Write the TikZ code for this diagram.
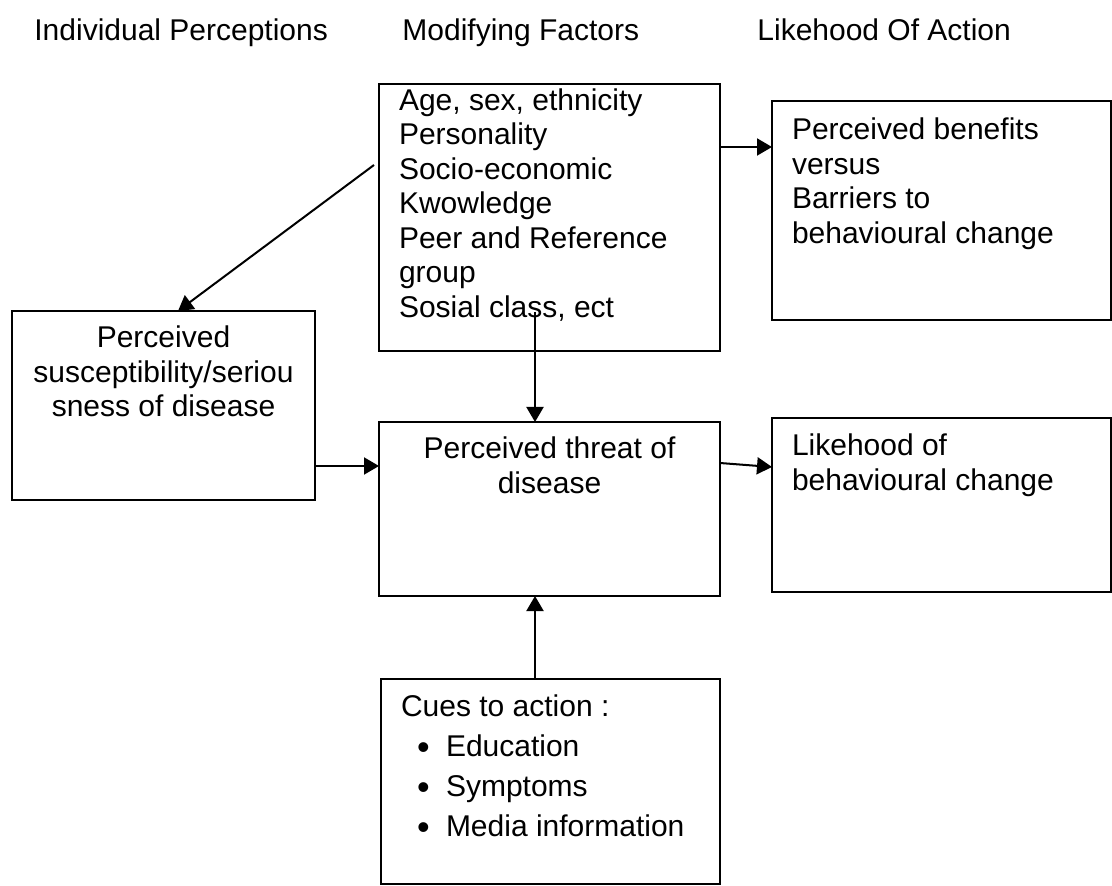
\documentclass[tikz,border=0pt]{standalone}
\usepackage{fontspec}
\setmainfont{Liberation Sans}
\usetikzlibrary{arrows.meta}

\begin{document}
\begin{tikzpicture}[x=0.5pt, y=-0.5pt]
  \tikzstyle{box}=[draw, line width=1pt, outer sep=0pt, anchor=north west, inner xsep=10pt, font=\fontsize{15pt}{17.25pt}\selectfont]
  \tikzstyle{head}=[anchor=base west, inner sep=0pt, font=\fontsize{15pt}{17.25pt}\selectfont]
  \tikzstyle{arr}=[line width=1pt, -{Triangle[length=7.5pt, width=8.5pt]}]

  \useasboundingbox (0,0) rectangle (1112,886);

  \node[head] (h1) at (34,41)  {Individual Perceptions};
  \node[head] (h2) at (402,41) {Modifying Factors};
  \node[head] (h3) at (757,41) {Likehood Of Action};

  \node[box, inner ysep=1.175pt] (1) at (379,84)
    {\parbox[t][131.15pt][t]{150.5pt}{\strut Age, sex, ethnicity\\Personality\\Socio-economic\\Kwowledge\\Peer and Reference\\group\\Sosial class, ect}};
  \node[box, inner ysep=7.425pt] (2) at (772,101)
    {\parbox[t][94.65pt][t]{149.5pt}{\strut Perceived benefits\\versus\\Barriers to\\behavioural change}};
  \node[box, inner xsep=8pt, inner ysep=6.425pt] (3) at (12,311)
    {\parbox[t][81.65pt][t]{135.5pt}{\centering\strut Perceived\\susceptibility/seriou\\sness of disease}};
  \node[box, inner ysep=6.425pt] (4) at (379,422)
    {\parbox[t][74.15pt][t]{150.5pt}{\centering\strut Perceived threat of\\disease}};
  \node[box, inner ysep=6.925pt] (5) at (772,418)
    {\parbox[t][73.15pt][t]{149.5pt}{\strut Likehood of\\behavioural change}};
  \node[box, inner ysep=6.425pt] (6) at (381,679)
    {\parbox[t][89.65pt][t]{149.5pt}{\strut Cues to action :\\[2.75pt]
      \hspace*{8pt}\makebox[14.5pt][l]{\raisebox{-1.5pt}{\fontsize{18pt}{17pt}\selectfont\textbullet}}Education\\[2.75pt]
      \hspace*{8pt}\makebox[14.5pt][l]{\raisebox{-1.5pt}{\fontsize{18pt}{17pt}\selectfont\textbullet}}Symptoms\\[2.75pt]
      \hspace*{8pt}\makebox[14.5pt][l]{\raisebox{-1.5pt}{\fontsize{18pt}{17pt}\selectfont\textbullet}}Media information}};

  \coordinate (c1) at (374,165);
  \coordinate (c2) at (535,312);

  \draw[arr] (c1) -- ([xshift=83pt]3.north west);
  \draw[arr] ([yshift=-31.5pt]1.north east) -- ([yshift=-23pt]2.north west);
  \draw[arr] (c2) -- (c2 |- 4.north);
  \draw[arr] ([yshift=-77.5pt]3.north east) -- ([yshift=-22pt]4.north west);
  \draw[arr] ([yshift=-20.5pt]4.north east) -- ([yshift=-24.5pt]5.north west);
  \draw[arr] (c2 |- 6.north) -- (c2 |- 4.south);
\end{tikzpicture}
\end{document}
